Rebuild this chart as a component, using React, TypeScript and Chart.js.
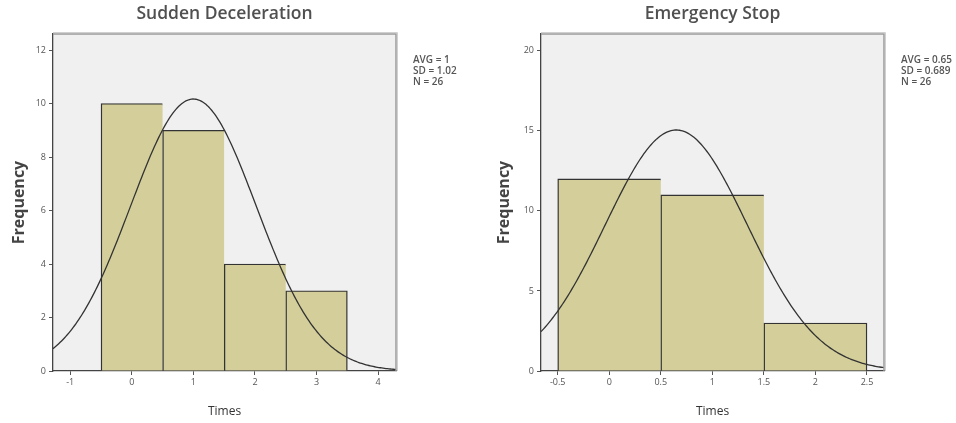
import React, { useEffect, useRef } from "react";
import { Chart, registerables } from "chart.js";
Chart.register(...registerables);

// ---- Sudden Deceleration ----
const sdTitle = "Sudden Deceleration";
const sdBinCenters = [0, 1, 2, 3];
const sdCounts = [10, 9, 4, 3];
const sdAvg = 1;
const sdSd = 1.02;
const sdN = 26;
const sdStats = ["AVG = 1", "SD = 1.02", "N = 26"];
const sdXRange = [-1.28, 4.29];
const sdXStep = 1;
const sdYMax = 12.6;
const sdYStep = 2;

// ---- Emergency Stop ----
const esTitle = "Emergency Stop";
const esBinCenters = [0, 1, 2];
const esCounts = [12, 11, 3];
const esAvg = 0.65;
const esSd = 0.689;
const esN = 26;
const esStats = ["AVG = 0.65", "SD = 0.689", "N = 26"];
const esXRange = [-0.662, 2.665];
const esXStep = 0.5;
const esYMax = 21.05;
const esYStep = 5;

const FONT = '"Open Sans", "Noto Sans", sans-serif';

const decor = {
  id: "decor",
  beforeDraw(chart: any, _args: any, opts: any) {
    const { ctx, chartArea: a } = chart;
    ctx.save();
    ctx.fillStyle = "#f0f0f0";
    ctx.fillRect(a.left, a.top, a.right - a.left, a.bottom - a.top);
    ctx.restore();
  },
  afterDraw(chart: any, _args: any, opts: any) {
    const { ctx, chartArea: a } = chart;
    ctx.save();
    ctx.strokeStyle = "#d0d0d0";
    ctx.lineWidth = 1;
    ctx.beginPath();
    ctx.moveTo(a.left, a.top - 1.5);
    ctx.lineTo(a.right + 1.5, a.top - 1.5);
    ctx.lineTo(a.right + 1.5, a.bottom);
    ctx.stroke();
    ctx.strokeStyle = "#9a9a9a";
    ctx.lineWidth = 1.5;
    ctx.beginPath();
    ctx.moveTo(a.left, a.top);
    ctx.lineTo(a.right, a.top);
    ctx.lineTo(a.right, a.bottom);
    ctx.stroke();
    ctx.fillStyle = "#505050";
    ctx.font = `600 17.5px ${FONT}`;
    ctx.textAlign = "center";
    ctx.textBaseline = "middle";
    ctx.fillText(opts.title, (a.left + a.right) / 2, 14);
    ctx.fillStyle = "#555";
    ctx.font = `600 10px ${FONT}`;
    ctx.textAlign = "left";
    (opts.stats as string[]).forEach((s, i) => {
      ctx.fillText(s, a.right + 17, 60 + i * 11.3);
    });
    ctx.restore();
  },
};

function normalCurve(avg: number, sd: number, n: number, binWidth: number, xr: number[]) {
  const pts: { x: number; y: number }[] = [];
  const steps = 240;
  for (let i = 0; i <= steps; i++) {
    const x = xr[0] + ((xr[1] - xr[0]) * i) / steps;
    const z = (x - avg) / sd;
    const y = (n * binWidth * Math.exp(-0.5 * z * z)) / (sd * Math.sqrt(2 * Math.PI));
    pts.push({ x, y });
  }
  return pts;
}

function makeConfig(p: {
  title: string;
  centers: number[];
  counts: number[];
  avg: number;
  sd: number;
  n: number;
  stats: string[];
  xr: number[];
  xStep: number;
  yMax: number;
  yStep: number;
  yAxisWidth: number;
  yTitlePad: number;
  rightPad: number;
}): any {
  const last = p.counts.length - 1;
  return {
    type: "bar",
    data: {
      datasets: [
        {
          type: "line",
          data: normalCurve(p.avg, p.sd, p.n, 1, p.xr),
          xAxisID: "x",
          yAxisID: "y",
          borderColor: "#333",
          borderWidth: 1.3,
          pointRadius: 0,
          tension: 0,
          fill: false,
          order: 0,
        },
        {
          type: "bar",
          data: p.centers.map((c, i) => ({ x: c, y: p.counts[i] })),
          xAxisID: "xb",
          yAxisID: "y",
          backgroundColor: "#d4cf9a",
          borderColor: "#333",
          borderWidth: (ctx: any) => ({
            top: 1.4,
            left: 1.4,
            bottom: 0,
            right: ctx.dataIndex === last ? 1.4 : 0,
          }),
          borderSkipped: false,
          grouped: false,
          categoryPercentage: 1,
          barPercentage: 1,
          order: 1,
        },
      ],
    },
    options: {
      responsive: false,
      animation: false,
      devicePixelRatio: 1,
      layout: { padding: { left: 0, top: 34, right: p.rightPad, bottom: 0 } },
      plugins: {
        legend: { display: false },
        tooltip: { enabled: false },
        decor: { title: p.title, stats: p.stats },
      },
      scales: {
        x: {
          type: "linear",
          position: "bottom",
          offset: false,
          min: p.xr[0],
          max: p.xr[1],
          ticks: {
            stepSize: p.xStep,
            includeBounds: false,
            autoSkip: false,
            maxRotation: 0,
            font: { size: 9, family: FONT },
            color: "#555",
            padding: 2,
            callback: (v: number) => `${v}`,
          },
          grid: { offset: false, drawOnChartArea: false, drawTicks: true, tickLength: 4, color: "#555" },
          border: { display: true, color: "#444", width: 1.3 },
          title: {
            display: true,
            text: "Times",
            font: { size: 12, family: FONT },
            color: "#333",
            padding: { top: 0, bottom: 4 },
          },
          afterFit(s: any) {
            s.height = 52;
          },
        },
        xb: {
          type: "linear",
          display: false,
          offset: false,
          grid: { offset: false },
          min: p.xr[0],
          max: p.xr[1],
          ticks: { stepSize: 100, includeBounds: false },
        },
        y: {
          type: "linear",
          min: 0,
          max: p.yMax,
          ticks: {
            stepSize: p.yStep,
            includeBounds: false,
            font: { size: 9, family: FONT },
            color: "#555",
            padding: 3,
            callback: (v: number) => `${v}`,
          },
          grid: { drawOnChartArea: false, drawTicks: true, tickLength: 4, color: "#555" },
          border: { display: true, color: "#444", width: 1.3 },
          title: {
            display: true,
            text: "Frequency",
            font: { size: 16, weight: "bold", family: FONT },
            color: "#444",
            padding: { top: p.yTitlePad, bottom: 0 },
          },
          afterFit(s: any) {
            s.width = p.yAxisWidth;
          },
        },
      },
    },
    plugins: [decor],
  };
}

function Hist({ left, cfg }: { left: number; cfg: any }) {
  const ref = useRef<HTMLCanvasElement>(null);
  useEffect(() => {
    const chart = new Chart(ref.current as HTMLCanvasElement, cfg);
    return () => chart.destroy();
  }, []);
  return (
    <canvas
      ref={ref}
      width={478}
      height={423}
      style={{ position: "absolute", left, top: 0, width: 478, height: 423 }}
    />
  );
}

export default function App() {
  const sdCfg = makeConfig({
    title: sdTitle,
    centers: sdBinCenters,
    counts: sdCounts,
    avg: sdAvg,
    sd: sdSd,
    n: sdN,
    stats: sdStats,
    xr: sdXRange,
    xStep: sdXStep,
    yMax: sdYMax,
    yStep: sdYStep,
    yAxisWidth: 53,
    yTitlePad: 10,
    rightPad: 82,
  });
  const esCfg = makeConfig({
    title: esTitle,
    centers: esBinCenters,
    counts: esCounts,
    avg: esAvg,
    sd: esSd,
    n: esN,
    stats: esStats,
    xr: esXRange,
    xStep: esXStep,
    yMax: esYMax,
    yStep: esYStep,
    yAxisWidth: 63,
    yTitlePad: 17,
    rightPad: 72,
  });
  return (
    <div style={{ position: "absolute", left: 0, top: 0, width: 956, height: 423, background: "#fff" }}>
      <Hist left={0} cfg={sdCfg} />
      <Hist left={478} cfg={esCfg} />
    </div>
  );
}
